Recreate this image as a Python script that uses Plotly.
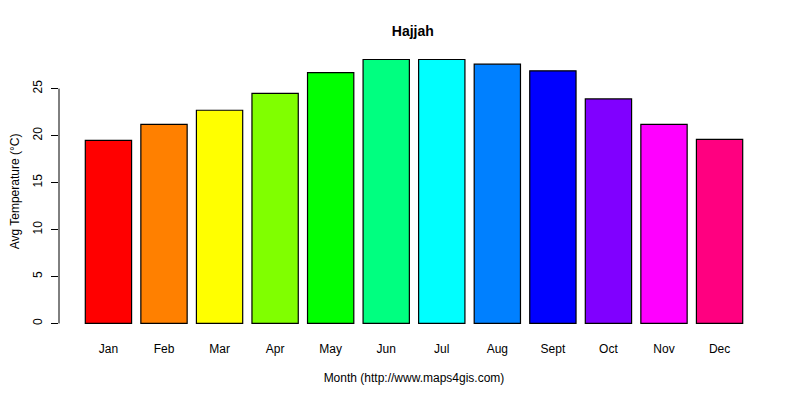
"""
Average monthly temperature bar chart for Hajjah.
"""

import plotly.graph_objects as go

# Chart data
months = ["Jan", "Feb", "Mar", "Apr", "May", "Jun",
          "Jul", "Aug", "Sept", "Oct", "Nov", "Dec"]
avg_temp = [19.5, 21.2, 22.7, 24.5, 26.7, 28.1,
            28.1, 27.6, 26.9, 23.9, 21.2, 19.6]
bar_colors = ["#FF0000", "#FF8000", "#FFFF00", "#80FF00", "#00FF00", "#00FF80",
              "#00FFFF", "#0080FF", "#0000FF", "#8000FF", "#FF00FF", "#FF0080"]
y_ticks = [0, 5, 10, 15, 20, 25]

FONT = "Liberation Sans, Arial, sans-serif"

fig = go.Figure()
fig.add_trace(go.Bar(
    x=months,
    y=avg_temp,
    marker=dict(color=bar_colors, line=dict(color="black", width=1.2)),
    hoverinfo="x+y",
))

# R-style y axis line spanning only the tick range
fig.add_shape(type="line", xref="paper", yref="y",
              x0=0, x1=0, y0=y_ticks[0], y1=y_ticks[-1],
              line=dict(color="black", width=1))

# the page body adds an 8px offset, so margins are shifted to compensate
fig.update_layout(
    width=800, height=400,
    margin=dict(l=51, r=39, t=41, b=74),
    paper_bgcolor="white", plot_bgcolor="white",
    bargap=1 - 1 / 1.2,
    showlegend=False,
    font=dict(family=FONT, size=12, color="black"),
    title=dict(text="<b>Hajjah</b>", x=0.506, xanchor="center",
               y=1 - 23 / 400, yanchor="middle", automargin=False,
               font=dict(family=FONT, size=14, color="black")),
    xaxis=dict(
        range=[-0.89, 11.89], showline=False, showgrid=False, zeroline=False,
        automargin=False,
        ticks="", ticklabelstandoff=6, tickfont=dict(size=12),
        title=dict(text="Month (http://www.maps4gis.com)", standoff=18,
                   font=dict(size=12)),
    ),
    yaxis=dict(
        range=[-1.124, 29.22], showline=False, showgrid=False, zeroline=False,
        automargin=False,
        tickvals=y_ticks, ticks="outside", ticklen=7, tickcolor="black",
        tickwidth=1, tickangle=-90, ticklabelstandoff=4,
        tickfont=dict(size=12),
        title=dict(text="Avg Temperature (°C)", standoff=14,
                   font=dict(size=12)),
    ),
)

fig.write_html("out.html")
